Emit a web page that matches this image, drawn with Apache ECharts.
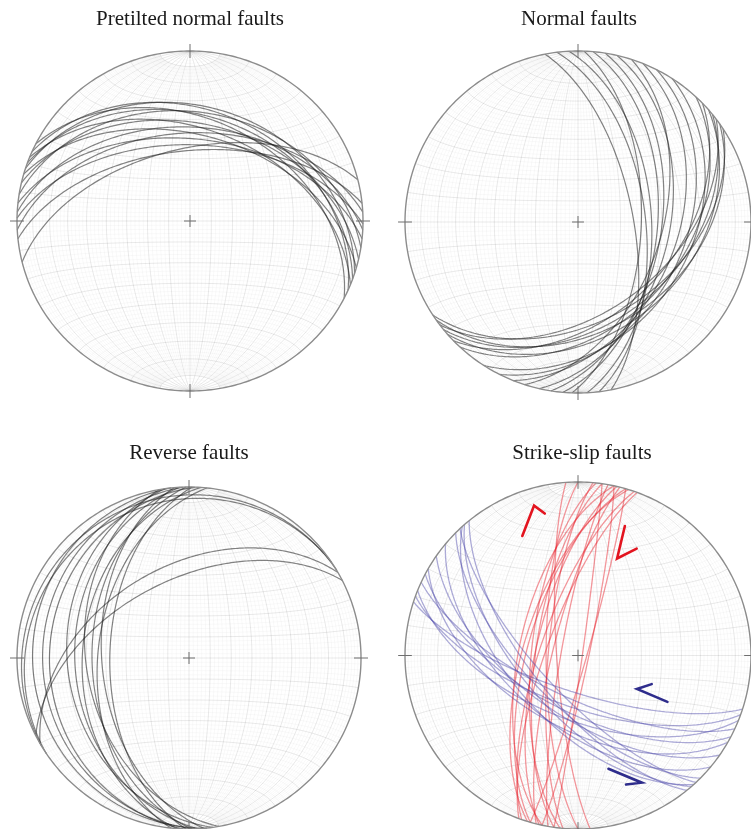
<!DOCTYPE html>
<html>
<head>
<meta charset="utf-8">
<script src="https://cdn.jsdelivr.net/npm/echarts@6/dist/echarts.min.js"></script>
<style>
  html, body { margin: 0; padding: 0; background: #ffffff; }
  #chart { width: 751px; height: 829px; }
</style>
</head>
<body>
<div id="chart"></div>
<script>
// Fault planes, each as [strike (right-hand rule), dip] in degrees.
const pretiltedNormalFaults = [
  [297, 40], [294, 35], [292, 45], [290, 38], [286, 48], [283, 42], [279, 36], [276, 50],
  [273, 44], [271, 53], [267, 47], [264, 56], [256, 55], [288, 33]
];
const normalFaults = [
  [349, 64], [353, 58], [357, 55], [2, 60], [5, 52], [9, 50], [13, 46], [18, 50],
  [22, 42], [27, 38], [33, 35],
  [57, 42], [55, 37], [53, 46], [51, 40], [49, 35], [46, 44], [43, 39]
];
const reverseFaults = [
  [178, 16], [174, 10], [182, 20], [172, 30], [177, 34], [184, 38], [170, 40], [179, 43],
  [186, 46], [175, 48], [181, 52],
  [239, 6], [236, 9], [240, 45], [243, 52]
];
const strikeSlipNNE = [
  [192, 62], [196, 66], [188, 70], [199, 72], [185, 76], [194, 78], [190, 82], [200, 75],
  [186, 68], [193, 70], [197, 64], [176, 80], [180, 75], [12, 85], [8, 88], [16, 86]
];
const strikeSlipWNW = [
  [141, 68], [139, 63], [137, 72], [135, 66], [138, 58],
  [118, 64], [115, 70], [112, 60], [110, 66], [108, 73], [120, 56], [125, 62], [130, 57]
];
const panelTitles = ['Pretilted normal faults', 'Normal faults', 'Reverse faults', 'Strike-slip faults'];

// Shear-sense half arrows, in net coordinates (unit primitive circle).
const senseArrowsRed = [
  [[-0.192, 0.818], [-0.254, 0.864], [-0.322, 0.689]],
  [[0.271, 0.746], [0.226, 0.559], [0.339, 0.616]]
];
const senseArrowsBlue = [
  [[0.426, -0.165], [0.341, -0.193], [0.517, -0.267]],
  [[0.176, -0.653], [0.369, -0.733], [0.278, -0.744]]
];

// Layout of the four nets (pixel centre and radii).
const panels = [
  { cx: 190, cy: 221, rx: 173, ry: 170 },
  { cx: 579, cy: 222, rx: 174, ry: 171 },
  { cx: 189, cy: 658, rx: 172, ry: 171 },
  { cx: 582, cy: 659, rx: 177, ry: 177 }
];

const D2R = Math.PI / 180;

// Lower-hemisphere Lambert equal-area projection of a unit vector (east, north, down).
function project(v) {
  const k = 1 / Math.sqrt(1 + Math.max(0, v[2]));
  return [v[0] * k, v[1] * k];
}

// Great circle of a plane, traced from one strike end to the other.
function greatCircle(strike, dip, from, to) {
  const s = strike * D2R, d = dip * D2R, dd = s + Math.PI / 2;
  const sv = [Math.sin(s), Math.cos(s), 0];
  const dv = [Math.sin(dd) * Math.cos(d), Math.cos(dd) * Math.cos(d), Math.sin(d)];
  const pts = [];
  const a0 = from === undefined ? 0 : from, a1 = to === undefined ? 180 : to;
  for (let t = a0; t <= a1 + 1e-9; t += 1) {
    const a = t * D2R, c = Math.cos(a), sn = Math.sin(a);
    pts.push(project([c * sv[0] + sn * dv[0], c * sv[1] + sn * dv[1], c * sv[2] + sn * dv[2]]));
  }
  return pts;
}

// Small circle about the N-S axis at a given latitude.
function smallCircle(lat) {
  const l = lat * D2R, pts = [];
  for (let t = 0; t <= 180; t += 1) {
    const a = t * D2R;
    pts.push(project([Math.cos(l) * Math.cos(a), Math.sin(l), Math.cos(l) * Math.sin(a)]));
  }
  return pts;
}

function netPolylines(major) {
  const out = [];
  for (let dip = 2; dip <= 90; dip += 2) {
    const isMajor = dip % 10 === 0;
    if (isMajor !== major) continue;
    const from = major ? 0 : 10, to = major ? 180 : 170;
    out.push({ coords: greatCircle(0, dip, from, to) });
    if (dip !== 90) out.push({ coords: greatCircle(180, dip, from, to) });
  }
  for (let lat = -88; lat <= 88; lat += 2) {
    const isMajor = lat % 10 === 0;
    if (isMajor !== major) continue;
    out.push({ coords: smallCircle(lat) });
  }
  return out;
}

function primitive() {
  const pts = [];
  for (let t = 0; t <= 360; t += 1) pts.push([Math.sin(t * D2R), Math.cos(t * D2R)]);
  return [{ coords: pts }];
}

function tickMarks(p) {
  const ox = 7 / p.rx, oy = 7 / p.ry, cx = 6 / p.rx, cy = 6 / p.ry;
  return [
    { coords: [[0, 1 - oy], [0, 1 + oy]] },
    { coords: [[0, -1 - oy], [0, -1 + oy]] },
    { coords: [[1 - ox, 0], [1 + ox, 0]] },
    { coords: [[-1 - ox, 0], [-1 + ox, 0]] },
    { coords: [[-cx, 0], [cx, 0]] },
    { coords: [[0, -cy], [0, cy]] }
  ];
}

const grids = [], xAxes = [], yAxes = [], series = [];
panels.forEach((p, i) => {
  grids.push({ left: p.cx - p.rx, top: p.cy - p.ry, width: 2 * p.rx, height: 2 * p.ry });
  xAxes.push({ gridIndex: i, type: 'value', min: -1, max: 1, show: false });
  yAxes.push({ gridIndex: i, type: 'value', min: -1, max: 1, show: false });
  const base = { type: 'lines', coordinateSystem: 'cartesian2d', xAxisIndex: i, yAxisIndex: i,
    polyline: true, silent: true, animation: false, clip: false };
  series.push(Object.assign({}, base, { z: 1, data: netPolylines(false),
    lineStyle: { color: '#000', opacity: 0.05, width: 0.6 } }));
  series.push(Object.assign({}, base, { z: 2, data: netPolylines(true),
    lineStyle: { color: '#000', opacity: 0.11, width: 0.8 } }));
  series.push(Object.assign({}, base, { z: 8, data: primitive(),
    lineStyle: { color: '#8c8c8c', opacity: 1, width: 1.4 } }));
  series.push(Object.assign({}, base, { z: 8, data: tickMarks(p),
    lineStyle: { color: '#6f6f6f', opacity: 1, width: 1 } }));
});

function addPlanes(list, gi, color, opacity, width) {
  list.forEach(pl => {
    series.push({
      type: 'line', xAxisIndex: gi, yAxisIndex: gi, data: greatCircle(pl[0], pl[1]),
      showSymbol: false, symbol: 'none', silent: true, animation: false, z: 5,
      lineStyle: { color: color, opacity: opacity, width: width }
    });
  });
}
addPlanes(pretiltedNormalFaults, 0, '#1e1e1e', 0.55, 1.2);
addPlanes(normalFaults, 1, '#1e1e1e', 0.55, 1.2);
addPlanes(reverseFaults, 2, '#1e1e1e', 0.55, 1.2);
addPlanes(strikeSlipNNE, 3, '#e8232d', 0.47, 1.3);
addPlanes(strikeSlipWNW, 3, '#4a45a8', 0.45, 1.3);

const arrowBase = { type: 'lines', coordinateSystem: 'cartesian2d', xAxisIndex: 3, yAxisIndex: 3,
  polyline: true, silent: true, animation: false, clip: false, z: 9 };
series.push(Object.assign({}, arrowBase, { data: senseArrowsRed.map(c => ({ coords: c })),
  lineStyle: { color: '#e3141f', width: 2.6, opacity: 1, cap: 'round', join: 'miter' } }));
series.push(Object.assign({}, arrowBase, { data: senseArrowsBlue.map(c => ({ coords: c })),
  lineStyle: { color: '#2e2c8c', width: 2.6, opacity: 1, cap: 'round', join: 'miter' } }));

const titleY = [19, 19, 453, 453];
const graphic = panelTitles.map((t, i) => ({
  type: 'text', x: panels[i].cx, y: titleY[i], silent: true,
  style: { text: t, fill: '#1a1a1a', font: '21px "Liberation Serif", "DejaVu Serif", serif',
    textAlign: 'center', textVerticalAlign: 'middle' }
}));

const chart = echarts.init(document.getElementById('chart'), null, { renderer: 'canvas' });
chart.setOption({
  backgroundColor: '#ffffff',
  animation: false,
  grid: grids, xAxis: xAxes, yAxis: yAxes,
  series: series,
  graphic: graphic
});
</script>
</body>
</html>
